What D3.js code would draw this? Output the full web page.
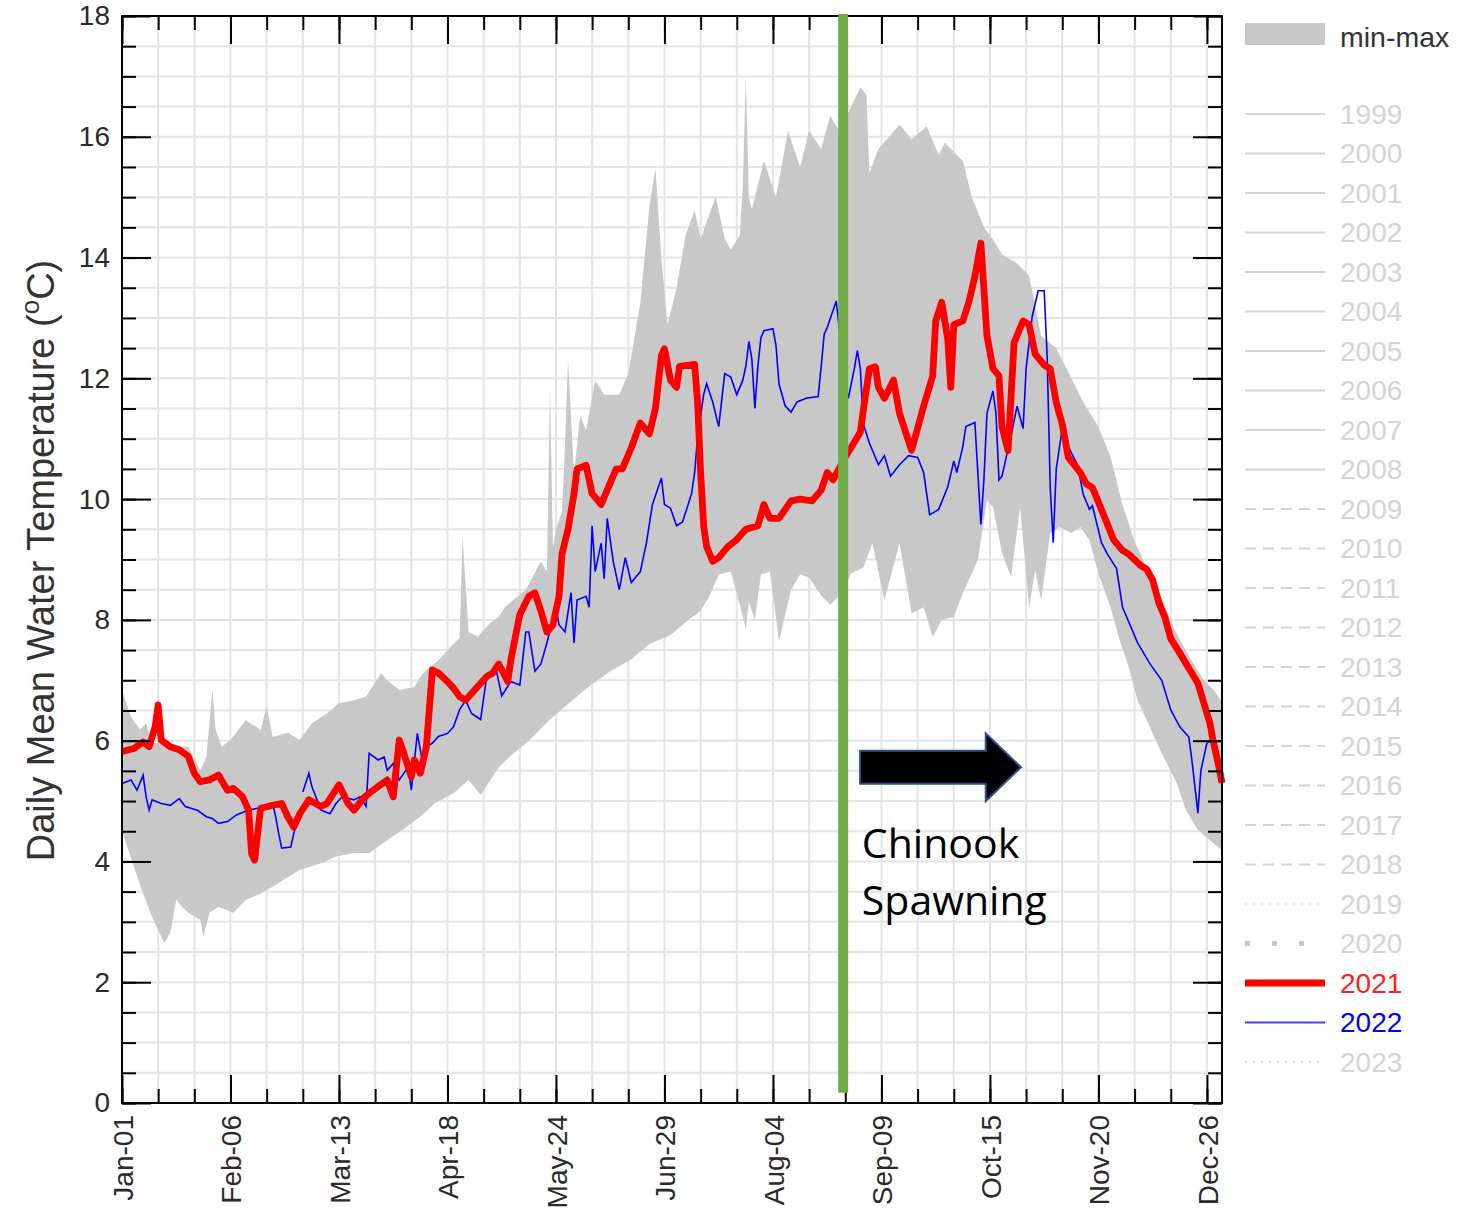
<!DOCTYPE html>
<html lang="en">
<head>
<meta charset="utf-8"/>
<title>Daily Mean Water Temperature</title>
<script src="https://d3js.org/d3.v7.min.js"></script>
<style>
  body { margin: 0; background: #fff; }
  svg text { font-family: "Liberation Sans", Arial, sans-serif; }
  .grid line { stroke: #e4e4e4; stroke-width: 2; }
  .axis path { display: none; }
  .axis line { stroke: #000; stroke-width: 2; }
  .axis text { font-size: 28px; fill: #2a2a2a; }
</style>
</head>
<body>
<svg id="chart" width="1460" height="1213"></svg>
<script>
// ---- data (day offset from Jan-01, temperature degC) ----
const tickLabels = ["Jan-01","Feb-06","Mar-13","Apr-18","May-24","Jun-29","Aug-04","Sep-09","Oct-15","Nov-20","Dec-26"];
const legendYears = d3.range(1999, 2024);

const maxTemp = [[0,6.84],[3,6.39],[6,6.18],[8,6.29],[10,5.96],[14,5.96],[17,5.9],[22,5.9],[26,5.51],[28,5.73],[30,6.84],[31,6.2],
  [33,5.9],[36,6.01],[41,6.34],[46,6.18],[48,6.56],[50,6.06],[55,6.13],[59,6.01],[63,6.29],[68,6.45],[72,6.62],[77,6.67],
  [81,6.73],[86,7.12],[88,7.0],[92,6.84],[97,6.89],[99,7.06],[101,7.17],[105,7.33],[109,7.55],[112,7.7],[113,9.38],[115,7.8],
  [118,7.72],[122,7.94],[125,8.05],[127,8.21],[134,8.5],[139,8.97],[141,8.8],[142,11.85],[143,9.2],[144,9.5],[146,9.8],[147,10.9],
  [148,12.3],[150,10.4],[152,11.38],[154,11.14],[157,11.97],[160,11.73],[165,11.73],[168,12.08],[172,13.25],[175,14.84],[177,15.48],
  [179,13.96],[181,12.9],[182,13.08],[184,13.49],[187,14.37],[190,14.78],[192,14.31],[197,15.01],[200,14.31],[202,14.13],[205,14.37],
  [206,15.2],[207,17.0],[208,15.0],[209,14.8],[213,15.6],[217,15.0],[221,16.1],[225,15.5],[228,16.1],[232,15.8],[235,16.35],[238,16.1],
  [242,16.5],[245,16.82],[247,16.7],[248,15.4],[251,15.8],[258,16.2],[262,15.96],[267,16.17],[271,15.7],[273,15.9],[279,15.6],
  [282,15.0],[286,14.5],[289,14.3],[292,14.05],[297,13.9],[301,13.7],[305,12.7],[310,12.5],[315,12.0],[319,11.6],[324,11.2],
  [328,10.7],[332,9.9],[336,9.3],[339,8.97],[345,8.36],[349,7.86],[354,7.4],[359,7.0],[362,6.85],[365,6.65]];

const minTemp = [[0,4.5],[4,3.91],[7,3.47],[10,3.08],[14,2.65],[16,2.81],[18,3.36],[20,3.25],[22,3.15],[26,3.03],[27,2.75],[29,3.15],
  [32,3.25],[37,3.15],[41,3.36],[46,3.47],[50,3.58],[55,3.74],[59,3.86],[66,3.97],[71,4.08],[77,4.14],[82,4.14],[88,4.35],[93,4.52],
  [99,4.74],[104,4.97],[110,5.13],[115,5.35],[119,5.1],[125,5.56],[129,5.75],[135,6.0],[142,6.35],[149,6.65],[155,6.9],[162,7.15],
  [169,7.35],[175,7.6],[182,7.75],[188,8.0],[192,8.15],[195,8.4],[198,8.75],[202,8.8],[205,8.25],[207,7.85],[208,8.3],[210,8.0],
  [212,8.75],[215,8.8],[218,7.65],[222,8.5],[225,8.75],[228,8.7],[232,8.4],[235,8.25],[238,8.4],[242,8.77],[246,8.87],[249,9.27],
  [253,8.33],[258,9.27],[262,8.11],[266,8.21],[269,7.72],[272,8.0],[276,8.05],[279,8.44],[284,8.99],[287,9.98],[289,9.87],[292,9.11],
  [295,8.71],[298,9.87],[301,8.21],[303,8.82],[305,8.33],[308,9.44],[311,9.54],[315,9.44],[318,9.54],[321,9.32],[324,8.77],[328,8.21],
  [331,7.67],[334,7.22],[337,6.67],[341,6.23],[345,5.79],[350,5.30],[353,4.85],[357,4.52],[361,4.35],[365,4.19]];

const temp2021 = [[0,5.82],[4,5.87],[7,5.98],[9,5.90],[11,6.23],[12,6.59],[13,6.01],[16,5.90],[19,5.85],[22,5.74],[24,5.46],[26,5.32],
  [29,5.35],[32,5.43],[35,5.18],[37,5.21],[40,5.07],[42,4.85],[43,4.13],[44,4.02],[45,4.46],[46,4.88],[50,4.93],[53,4.96],[55,4.74],
  [57,4.57],[59,4.79],[62,5.02],[66,4.91],[68,4.96],[72,5.27],[75,4.96],[77,4.85],[80,5.04],[82,5.13],[85,5.24],[88,5.35],[90,5.07],
  [92,6.01],[93,5.87],[96,5.40],[97,5.68],[99,5.46],[101,5.90],[103,7.17],[105,7.12],[108,6.98],[110,6.87],[112,6.73],[114,6.67],
  [116,6.78],[119,6.95],[121,7.06],[123,7.12],[125,7.27],[128,6.98],[129,7.33],[132,8.09],[135,8.39],[137,8.45],[139,8.15],[141,7.80],
  [143,7.92],[145,8.39],[146,9.09],[148,9.50],[150,10.09],[151,10.50],[154,10.56],[156,10.09],[159,9.91],[161,10.15],[164,10.50],
  [166,10.50],[169,10.85],[172,11.26],[175,11.08],[177,11.50],[179,12.38],[180,12.49],[182,11.97],[184,11.85],[185,12.20],[190,12.23],
  [191,11.61],[192,10.44],[193,9.56],[194,9.21],[196,8.97],[198,9.03],[201,9.21],[204,9.33],[207,9.50],[211,9.56],[213,9.91],[215,9.68],
  [218,9.68],[222,9.97],[225,10.00],[229,9.97],[232,10.15],[234,10.44],[236,10.32],[240,10.7],[242,10.86],[245,11.11],[246,11.48],
  [248,12.16],[250,12.19],[251,11.85],[253,11.67],[256,11.97],[258,11.42],[260,11.11],[262,10.81],[264,11.17],[266,11.54],[269,12.04],
  [270,12.95],[272,13.26],[274,12.65],[275,11.85],[276,12.89],[279,12.95],[281,13.26],[283,13.69],[285,14.24],[287,12.71],[289,12.16],
  [291,12.04],[292,11.2],[294,10.8],[296,12.59],[299,12.95],[301,12.89],[303,12.40],[306,12.22],[308,12.16],[310,11.60],[312,11.24],
  [314,10.69],[318,10.44],[320,10.25],[322,10.19],[324,9.95],[327,9.58],[329,9.33],[332,9.15],[334,9.09],[338,8.90],[340,8.84],
  [342,8.66],[344,8.29],[346,8.05],[348,7.69],[351,7.45],[357,6.95],[361,6.29],[362,6.01],[364,5.56],[365,5.30]];

const temp2022 = [[0,5.29],[3,5.35],[5,5.18],[7,5.43],[8,5.07],[9,4.85],[10,5.02],[13,4.96],[16,4.93],[19,5.04],[21,4.91],[25,4.85],
  [28,4.74],[30,4.71],[32,4.63],[35,4.66],[38,4.77],[42,4.85],[45,4.88],[48,4.91],[50,4.96],[51,4.74],[52,4.46],[53,4.22],[56,4.24],
  [57,4.46],[58,4.68],null,[60,5.15],[62,5.46],[63,5.24],[66,4.85],[69,4.79],[71,4.96],[73,5.07],[77,5.02],[79,5.07],[81,4.91],
  [82,5.79],[85,5.68],[87,5.73],[88,5.51],[90,5.62],[92,5.35],[95,5.57],[96,5.18],[98,6.12],[100,5.57],[101,5.90],[103,5.96],
  [105,6.07],[108,6.12],[110,6.23],[112,6.51],[114,6.67],[116,6.45],[119,6.35],[121,7.06],[124,7.21],[126,6.74],[129,6.98],[132,6.92],
  [134,7.80],[135,7.80],[137,7.15],[139,7.27],[141,7.62],[144,8.21],[145,7.92],[147,7.80],[149,8.45],[150,7.62],[151,8.33],[154,8.39],
  [155,8.21],[156,9.56],[157,8.80],[159,9.27],[160,8.68],[161,9.68],[163,8.97],[165,8.50],[167,9.03],[169,8.62],[172,8.80],[174,9.27],
  [176,9.91],[179,10.35],[180,9.91],[182,9.85],[184,9.56],[186,9.62],[189,10.09],[190,10.44],[191,11.03],[193,11.73],[194,11.91],
  [196,11.61],[198,11.20],[200,12.08],[202,12.02],[204,11.73],[206,11.97],[207,12.20],[208,12.61],[209,12.32],[210,11.50],[211,12.20],
  [212,12.67],[213,12.79],[216,12.82],[217,12.55],[218,11.91],[220,11.55],[222,11.44],[224,11.61],[227,11.67],[231,11.70],[232,12.20],
  [233,12.73],[234,12.84],[237,13.28],[240,11.9],[241,11.67],[243,12.16],[244,12.46],[245,12.16],[246,11.24],[248,10.93],[251,10.57],
  [253,10.72],[255,10.38],[258,10.57],[261,10.72],[264,10.69],[266,10.44],[268,9.74],[271,9.83],[274,10.20],[276,10.63],[277,10.44],
  [279,10.87],[280,11.20],[283,11.27],[285,9.58],[286,10.32],[287,11.42],[289,11.79],[290,11.42],[291,10.32],[292,10.38],[295,11.05],
  [297,11.54],[299,11.17],[300,12.16],[302,13.02],[304,13.45],[306,13.45],[307,12.34],[308,10.20],[309,9.28],[310,10.50],[312,11.17],
  [314,10.87],[317,10.57],[319,10.07],[321,9.83],[322,9.89],[325,9.28],[327,9.09],[330,8.85],[332,8.21],[337,7.62],[341,7.28],
  [345,7.0],[348,6.51],[351,6.23],[354,6.06],[355,5.68],[357,4.80],[358,5.51],[360,5.96],[362,6.01],[363,5.68],[365,5.46]];

const spawnDay = 239.3;   // start of Chinook spawning

// ---- layout ----
const svg = d3.select("#chart");
const pL = 122, pR = 1222, pT = 16, pB = 1103;
const x = d3.scaleLinear().domain([0, 365]).range([pL, pR]);
const y = d3.scaleLinear().domain([0, 18]).range([pB, pT]);

const xMinor = d3.range(0, 361, 12);
const xMajor = d3.range(0, 361, 36);
const yMinor = d3.range(0, 18.01, 0.5);
const yMajor = d3.range(0, 18.01, 2);

// grid
const grid = svg.append("g").attr("class", "grid");
grid.selectAll(".gv").data(xMinor).enter().append("line")
  .attr("x1", d => x(d)).attr("x2", d => x(d)).attr("y1", pT).attr("y2", pB);
grid.selectAll(".gh").data(yMinor).enter().append("line")
  .attr("x1", pL).attr("x2", pR).attr("y1", d => y(d)).attr("y2", d => y(d));

// min-max band
const band = maxTemp.concat(minTemp.slice().reverse());
svg.append("path")
  .attr("d", d3.line().x(d => x(d[0])).y(d => y(d[1]))(band) + "Z")
  .style("fill", "#c8c8c8");

const line = d3.line().defined(d => d !== null).x(d => x(d[0])).y(d => y(d[1]));
svg.append("path").attr("d", line(temp2022))
  .style("fill", "none").style("stroke", "#0000ff").style("stroke-width", 1.6);
svg.append("path").attr("d", line(temp2021))
  .style("fill", "none").style("stroke", "#ff0000").style("stroke-width", 6.8)
  .style("stroke-linejoin", "round");

// axes (ticks point inward)
const axes = [
  {gen: d3.axisBottom(x), pos: "translate(0," + pB + ")", minor: xMinor},
  {gen: d3.axisTop(x), pos: "translate(0," + pT + ")", minor: xMinor},
  {gen: d3.axisLeft(y), pos: "translate(" + pL + ",0)", minor: yMinor},
  {gen: d3.axisRight(y), pos: "translate(" + pR + ",0)", minor: yMinor}
];
axes.forEach(function(a) {
  svg.append("g").attr("class", "axis").attr("transform", a.pos)
    .call(a.gen.tickValues(a.minor).tickSizeInner(-14).tickSizeOuter(0).tickFormat(""));
});
const xAxis = svg.append("g").attr("class", "axis").attr("transform", "translate(0," + pB + ")")
  .call(d3.axisBottom(x).tickValues(xMajor).tickSizeInner(-28).tickSizeOuter(0)
    .tickFormat((d, i) => tickLabels[i]));
xAxis.selectAll("text")
  .attr("text-anchor", "end")
  .attr("transform", "rotate(-90)")
  .attr("x", -12).attr("y", 0).attr("dy", "0.36em");
svg.append("g").attr("class", "axis").attr("transform", "translate(0," + pT + ")")
  .call(d3.axisTop(x).tickValues(xMajor).tickSizeInner(-28).tickSizeOuter(0).tickFormat(""));
svg.append("g").attr("class", "axis").attr("transform", "translate(" + pL + ",0)")
  .call(d3.axisLeft(y).tickValues(yMajor).tickSizeInner(-29).tickSizeOuter(0).tickPadding(12)
    .tickFormat(d3.format("d")));
svg.append("g").attr("class", "axis").attr("transform", "translate(" + pR + ",0)")
  .call(d3.axisRight(y).tickValues(yMajor).tickSizeInner(-29).tickSizeOuter(0).tickFormat(""));

svg.append("rect")
  .attr("x", pL).attr("y", pT).attr("width", pR - pL).attr("height", pB - pT)
  .style("fill", "none").style("stroke", "#000").style("stroke-width", 2);

// y axis title
const title = svg.append("text")
  .attr("transform", "translate(54," + ((pT + pB) / 2 + 1) + ") rotate(-90)")
  .attr("text-anchor", "middle")
  .style("font-size", "38px").style("fill", "#333")
  .text("Daily Mean Water Temperature (");
title.append("tspan").attr("baseline-shift", "super").style("font-size", "26px").text("o");
title.append("tspan").text("C)");

// spawning marker
svg.append("line")
  .attr("x1", x(spawnDay)).attr("x2", x(spawnDay))
  .attr("y1", y(18) - 2).attr("y2", y(0.17))
  .style("stroke", "#70ad47").style("stroke-width", 10);

const ax0 = x(spawnDay + 5.6), axNeck = x(spawnDay + 47.3), axTip = x(spawnDay + 59);
const ay = y(5.56), shaftH = 16.5, headH = 34;
svg.append("path")
  .attr("d", "M" + ax0 + "," + (ay - shaftH) + "L" + axNeck + "," + (ay - shaftH) + "L" + axNeck + "," + (ay - headH) +
    "L" + axTip + "," + ay + "L" + axNeck + "," + (ay + headH) + "L" + axNeck + "," + (ay + shaftH) +
    "L" + ax0 + "," + (ay + shaftH) + "Z")
  .style("fill", "#000").style("stroke", "#2f528f").style("stroke-width", 2);

const note = svg.append("text")
  .attr("x", x(spawnDay + 6.2)).attr("y", y(4.06))
  .style("font-family", "'Open Sans', 'Noto Sans', sans-serif").style("font-size", "41px").style("fill", "#000");
note.append("tspan").text("Chinook");
note.append("tspan").attr("x", x(spawnDay + 6.2)).attr("dy", 57).text("Spawning");

// legend
const lg = svg.append("g");
const lx1 = 1245, lx2 = 1325, ltx = 1340;
lg.append("rect").attr("x", lx1).attr("y", 23).attr("width", lx2 - lx1).attr("height", 22).style("fill", "#c8c8c8");
lg.append("text").attr("x", ltx).attr("y", 37).attr("dy", "0.35em")
  .style("font-size", "28.5px").style("fill", "#333").text("min-max");

function legendStyle(yr) {
  if (yr === 2021) return {stroke: "#ff0000", width: 7, dash: null, text: "#ff2020"};
  if (yr === 2022) return {stroke: "#4040ff", width: 2, dash: null, text: "#0000ff"};
  if (yr === 2020) return {stroke: "#c8c8c8", width: 5, dash: "5,22", text: "#d4d4d4"};
  if (yr === 2019 || yr === 2023) return {stroke: "#d0d0d0", width: 1.5, dash: "2,6", text: "#d4d4d4"};
  if (yr >= 2009) return {stroke: "#d4d4d4", width: 2, dash: "11,7", text: "#d4d4d4"};
  return {stroke: "#d4d4d4", width: 2, dash: null, text: "#d4d4d4"};
}
const rows = lg.selectAll(".row").data(legendYears).enter().append("g")
  .attr("transform", (d, i) => "translate(0," + (114 + i * 39.5) + ")");
rows.append("line").attr("x1", lx1).attr("x2", lx2)
  .style("stroke", d => legendStyle(d).stroke)
  .style("stroke-width", d => legendStyle(d).width)
  .style("stroke-dasharray", d => legendStyle(d).dash);
rows.append("text").attr("x", ltx).attr("dy", "0.35em")
  .style("font-size", "28px").style("fill", d => legendStyle(d).text)
  .text(d => d);
</script>
</body>
</html>
